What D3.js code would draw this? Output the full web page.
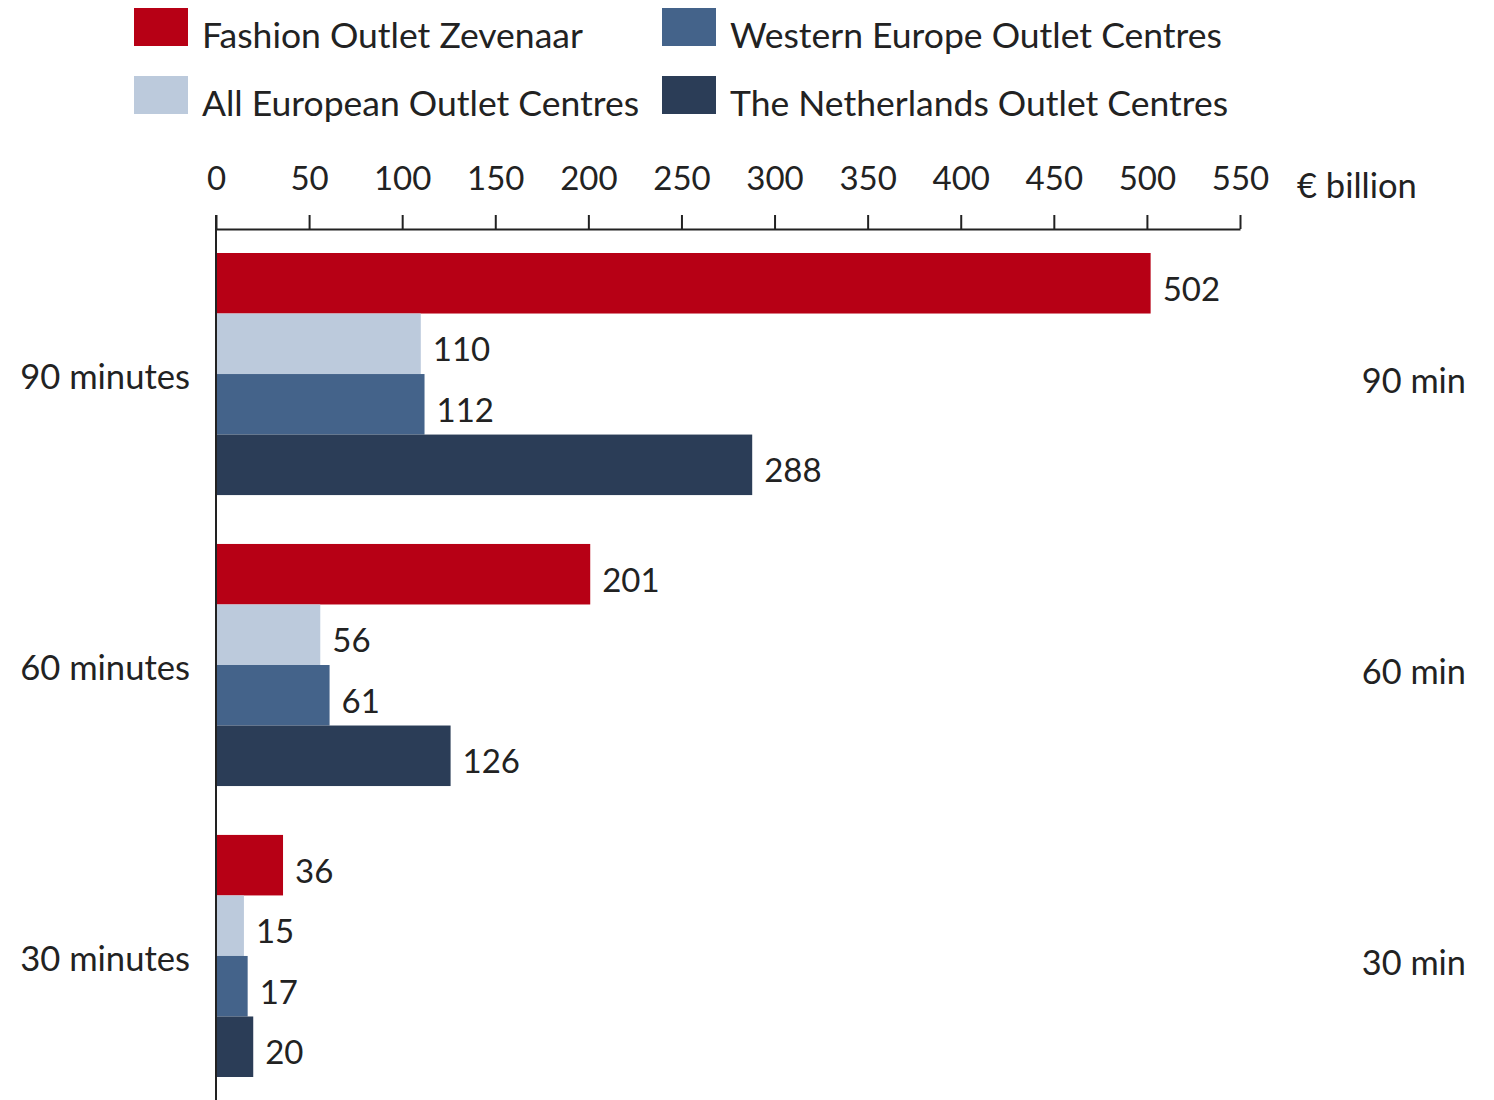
<!DOCTYPE html>
<html>
<head>
<meta charset="utf-8">
<script src="https://cdn.jsdelivr.net/npm/d3@7"></script>
<style>
  body { margin: 0; background: #fff; }
  svg text { font-family: Lato, "Noto Sans", sans-serif; fill: #222; }
</style>
</head>
<body>
<div class="chart"></div>
<script>
// Data
var groups = ["90 minutes", "60 minutes", "30 minutes"];
var groupShort = ["90 min", "60 min", "30 min"];
var seriesNames = ["Fashion Outlet Zevenaar", "All European Outlet Centres",
                   "Western Europe Outlet Centres", "The Netherlands Outlet Centres"];
var seriesColors = ["#b70015", "#bccadc", "#44638a", "#2b3d57"];
var zevenaar = [502, 201, 36];
var allEurope = [110, 56, 15];
var westernEurope = [112, 61, 17];
var netherlands = [288, 126, 20];
var tickValues = [0, 50, 100, 150, 200, 250, 300, 350, 400, 450, 500, 550];
var unitLabel = "€ billion";

var series = [zevenaar, allEurope, westernEurope, netherlands];

var width = 1494, height = 1100;

var svg = d3.select(".chart").append("svg")
    .attr("width", width)
    .attr("height", height);

// scales
var x = d3.scaleLinear().domain([0, 550]).range([216, 1240]);
var y0 = d3.scaleBand().domain(groups).range([253, 1077]).paddingInner(0.168);
var y1 = d3.scaleBand().domain(d3.range(series.length)).range([0, y0.bandwidth()]);

// legend (two columns, filled column by column)
var legend = svg.append("g").selectAll("g")
    .data(seriesNames)
  .enter().append("g")
    .attr("transform", function(d, i) {
      return "translate(" + (134 + Math.floor(i / 2) * 528) + "," + (8 + (i % 2) * 68) + ")";
    });
legend.append("rect")
    .attr("width", 54)
    .attr("height", 38)
    .style("fill", function(d, i) { return seriesColors[i]; });
legend.append("text")
    .attr("x", 68)
    .attr("y", 40)
    .style("font-size", "35.5px")
    .text(function(d) { return d; });

// top axis
var axis = d3.axisTop(x)
    .tickValues(tickValues)
    .tickSize(14)
    .tickPadding(25)
    .tickSizeOuter(0);
var axisG = svg.append("g")
    .attr("transform", "translate(0,229)")
    .call(axis);
axisG.select(".domain").attr("stroke", "#222").attr("stroke-width", 2);
axisG.selectAll(".tick line").attr("stroke", "#222").attr("stroke-width", 2);
axisG.selectAll(".tick text")
    .style("font-size", "33px")
    .style("font-family", "Lato, sans-serif")
    .attr("fill", "#222");

svg.append("text")
    .attr("x", 1297)
    .attr("y", 198)
    .style("font-size", "34.5px")
    .text(unitLabel);

// bars
var groupG = svg.append("g").selectAll("g")
    .data(groups)
  .enter().append("g")
    .attr("transform", function(d) { return "translate(0," + y0(d) + ")"; });

groupG.selectAll("rect")
    .data(function(d, gi) { return series.map(function(s, si) { return {si: si, v: s[gi]}; }); })
  .enter().append("rect")
    .attr("x", x(0))
    .attr("y", function(d) { return y1(d.si); })
    .attr("width", function(d) { return x(d.v) - x(0); })
    .attr("height", y1.bandwidth())
    .style("fill", function(d) { return seriesColors[d.si]; });

groupG.selectAll("text.value")
    .data(function(d, gi) { return series.map(function(s, si) { return {si: si, v: s[gi]}; }); })
  .enter().append("text")
    .attr("class", "value")
    .attr("x", function(d) { return x(d.v) + 12; })
    .attr("y", function(d) { return y1(d.si) + y1.bandwidth() / 2 + 6; })
    .attr("dy", ".35em")
    .style("font-size", "33px")
    .text(function(d) { return d.v; });

// group labels left and right
svg.append("g").selectAll("text")
    .data(groups)
  .enter().append("text")
    .attr("x", 190)
    .attr("y", function(d) { return y0(d) + y0.bandwidth() / 2 + 3; })
    .attr("dy", ".35em")
    .attr("text-anchor", "end")
    .style("font-size", "34.6px")
    .text(function(d) { return d; });

svg.append("g").selectAll("text")
    .data(groupShort)
  .enter().append("text")
    .attr("x", 1466)
    .attr("y", function(d, i) { return y0(groups[i]) + y0.bandwidth() / 2 + 7; })
    .attr("dy", ".35em")
    .attr("text-anchor", "end")
    .style("font-size", "34.3px")
    .text(function(d) { return d; });

// vertical baseline
svg.append("line")
    .attr("x1", x(0)).attr("x2", x(0))
    .attr("y1", 215).attr("y2", height)
    .attr("stroke", "#222")
    .attr("stroke-width", 2);
</script>
</body>
</html>
